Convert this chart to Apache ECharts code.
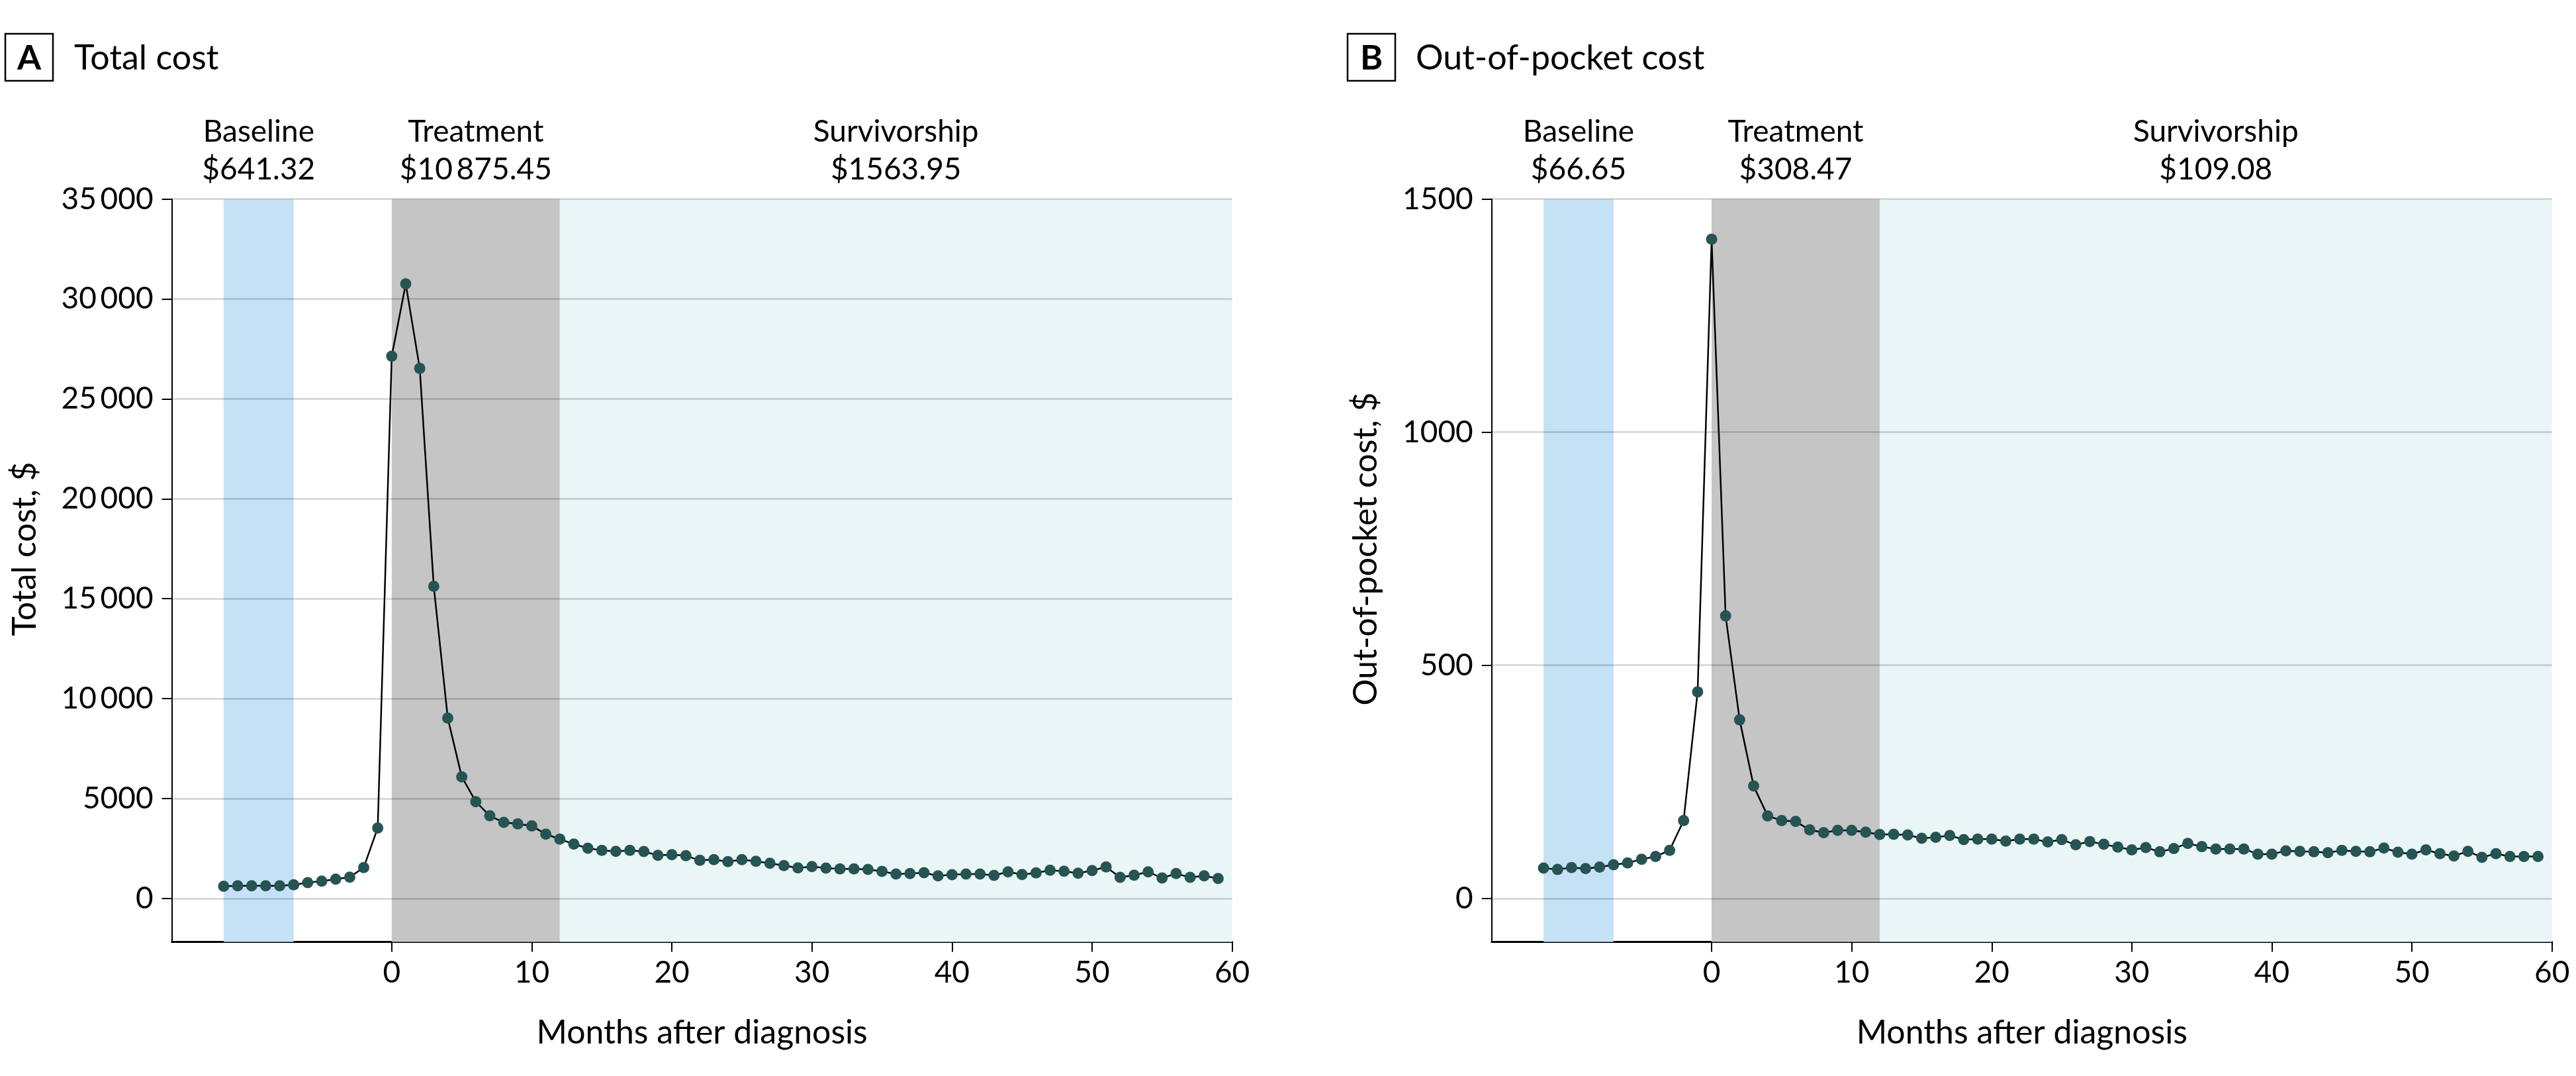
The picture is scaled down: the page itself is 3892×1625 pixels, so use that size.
<!DOCTYPE html>
<html>
<head>
<meta charset="utf-8">
<script src="https://cdn.jsdelivr.net/npm/echarts@6/dist/echarts.min.js"></script>
<style>
html,body{margin:0;padding:0;background:#fff;}
#chart{width:3892px;height:1625px;}
</style>
</head>
<body>
<div id="chart"></div>
<script>
// ---- data ----
const months = [-12,-11,-10,-9,-8,-7,-6,-5,-4,-3,-2,-1,0,1,2,3,4,5,6,7,8,9,10,11,12,13,14,15,16,17,18,19,20,21,22,23,24,25,26,27,28,29,30,31,32,33,34,35,36,37,38,39,40,41,42,43,44,45,46,47,48,49,50,51,52,53,54,55,56,57,58,59];
const totalCost = [610,634,634,634,634,685,786,862,964,1065,1547,3525,
  27135,30760,26527,15622,9028,6086,4844,4134,3804,3728,3627,3220,2965,
  2720,2511,2402,2356,2402,2346,2157,2190,2137,1905,1938,1839,1938,1859,1759,1640,1527,
  1594,1517,1474,1474,1451,1352,1219,1242,1285,1130,1186,1219,1219,1153,1329,1196,1275,1408,1362,1262,
  1395,1574,1054,1163,1329,1020,1242,1054,1130,997];
const oopCost = [65,62,66,64,67,72,76,84,90,103,167,443,
  1414,606,383,241,177,167,165,147,141,146,146,142,137,
  137.5,136,129,131,135,126,127,127,123,127,127,121,126,115,122,116,110,
  104,109,100,107,118,111,106,106,106,95,95,102,101,100,98,103,101,100,108,99,
  95,104,96,91,101,88,96,90,90,90];
const phaseNames = ['Baseline','Treatment','Survivorship'];
const phaseStart = [-12, 0, 12];
const phaseEnd = [-7, 12, 60];
const phaseMeansA = ['$641.32','$10\u2009875.45','$1563.95'];
const phaseMeansB = ['$66.65','$308.47','$109.08'];
const xTicks = [0,10,20,30,40,50,60];
const yTicksA = [0,5000,10000,15000,20000,25000,30000,35000];
const yTickLabelsA = ['0','5000','10\u2009000','15\u2009000','20\u2009000','25\u2009000','30\u2009000','35\u2009000'];
const yTicksB = [0,500,1000,1500];
const yTickLabelsB = ['0','500','1000','1500'];

// ---- styles ----
const FONT = 'Lato';
const bandColors = ['#c5e1f6','#c4c5c4','#eaf6f6'];
const dotColor = '#265454';

function pairs(vals){ return months.map((m,i)=>[m, vals[i]]); }

function bandData(means){
  return phaseNames.map((n,i)=>[
    {xAxis: phaseStart[i], itemStyle:{color: bandColors[i]},
     label:{show:true, position:'top', distance:16, formatter: n + '\n' + means[i],
            fontFamily:FONT, fontSize:46, lineHeight:57, color:'#000', align:'center'}},
    {xAxis: phaseEnd[i]}
  ]);
}

function makeXAxis(idx){
  return {
    gridIndex: idx, type:'value', min:-15.7, max:60,
    name:'Months after diagnosis', nameLocation:'middle', nameGap:112,
    nameTextStyle:{fontFamily:FONT, fontSize:50, color:'#000'},
    axisLine:{show:true, onZero:false, lineStyle:{color:'#000', width:3}},
    axisTick:{show:true, customValues:xTicks, length:15, lineStyle:{color:'#000', width:2}},
    axisLabel:{show:true, customValues:xTicks, margin:24, fontFamily:FONT, fontSize:46, color:'#000'},
    splitLine:{show:false}
  };
}
function makeYAxis(idx, min, max, ticks, labels){
  return {
    gridIndex: idx, type:'value', min:min, max:max,
    axisLine:{show:true, onZero:false, lineStyle:{color:'#000', width:2}},
    axisTick:{show:true, customValues:ticks, length:15, lineStyle:{color:'#000', width:2}},
    axisLabel:{show:true, customValues:ticks, margin:28, fontFamily:FONT, fontSize:46, color:'#000',
      formatter:(v)=>{ const k = ticks.indexOf(v); return k>=0 ? labels[k] : ''; }},
    splitLine:{show:false}
  };
}
function seriesFor(idx, vals, means, ticks){
  return [
    {type:'line', xAxisIndex:idx, yAxisIndex:idx, data:pairs(vals), symbol:'none',
     lineStyle:{opacity:0}, silent:true, z:1,
     markArea:{silent:true, data:bandData(means)}},
    {type:'line', xAxisIndex:idx, yAxisIndex:idx, data:[], symbol:'none', silent:true, z:2,
     markLine:{silent:true, symbol:['none','none'], label:{show:false},
       lineStyle:{color:'rgba(0,0,0,0.15)', width:3, type:'solid'},
       data: ticks.map(t=>({yAxis:t}))}},
    {type:'line', xAxisIndex:idx, yAxisIndex:idx, data:pairs(vals), z:5,
     symbol:'circle', symbolSize:17, itemStyle:{color:dotColor, borderWidth:0},
     lineStyle:{color:'#000', width:2.5}, animation:false}
  ];
}

const chart = echarts.init(document.getElementById('chart'), null, {renderer:'canvas'});
chart.setOption({
  animation:false,
  backgroundColor:'#fff',
  grid:[
    {left:259.6, right:2030.4, top:300.7, bottom:202.4},
    {left:2253.8, right:36.3, top:300.7, bottom:202.4}
  ],
  xAxis:[makeXAxis(0), makeXAxis(1)],
  yAxis:[makeYAxis(0,-2180,35000,yTicksA,yTickLabelsA), makeYAxis(1,-93.5,1500,yTicksB,yTickLabelsB)],
  series:[].concat(seriesFor(0,totalCost,phaseMeansA,yTicksA), seriesFor(1,oopCost,phaseMeansB,yTicksB)),
  graphic:[
    {type:'rect', shape:{x:8,y:51,width:72,height:71}, style:{fill:'none', stroke:'#000', lineWidth:2.5}},
    {type:'text', x:44, y:88, style:{text:'A', fontFamily:FONT, fontWeight:'bold', fontSize:52, fill:'#000', align:'center', verticalAlign:'middle', textAlign:'center', textVerticalAlign:'middle'}},
    {type:'text', x:112, y:88, style:{text:'Total cost', fontFamily:FONT, fontSize:52, fill:'#000', align:'left', verticalAlign:'middle', textAlign:'left', textVerticalAlign:'middle'}},
    {type:'rect', shape:{x:2036,y:51,width:72,height:71}, style:{fill:'none', stroke:'#000', lineWidth:2.5}},
    {type:'text', x:2072, y:88, style:{text:'B', fontFamily:FONT, fontWeight:'bold', fontSize:52, fill:'#000', align:'center', verticalAlign:'middle', textAlign:'center', textVerticalAlign:'middle'}},
    {type:'text', x:2139, y:88, style:{text:'Out-of-pocket cost', fontFamily:FONT, fontSize:52, fill:'#000', align:'left', verticalAlign:'middle', textAlign:'left', textVerticalAlign:'middle'}},
    {type:'text', x:38, y:829, rotation:Math.PI/2, style:{text:'Total cost, $', fontFamily:FONT, fontSize:50, fill:'#000', align:'center', verticalAlign:'middle', textAlign:'center', textVerticalAlign:'middle'}},
    {type:'text', x:2064, y:829, rotation:Math.PI/2, style:{text:'Out-of-pocket cost, $', fontFamily:FONT, fontSize:50, fill:'#000', align:'center', verticalAlign:'middle', textAlign:'center', textVerticalAlign:'middle'}}
  ]
});
</script>
</body>
</html>
